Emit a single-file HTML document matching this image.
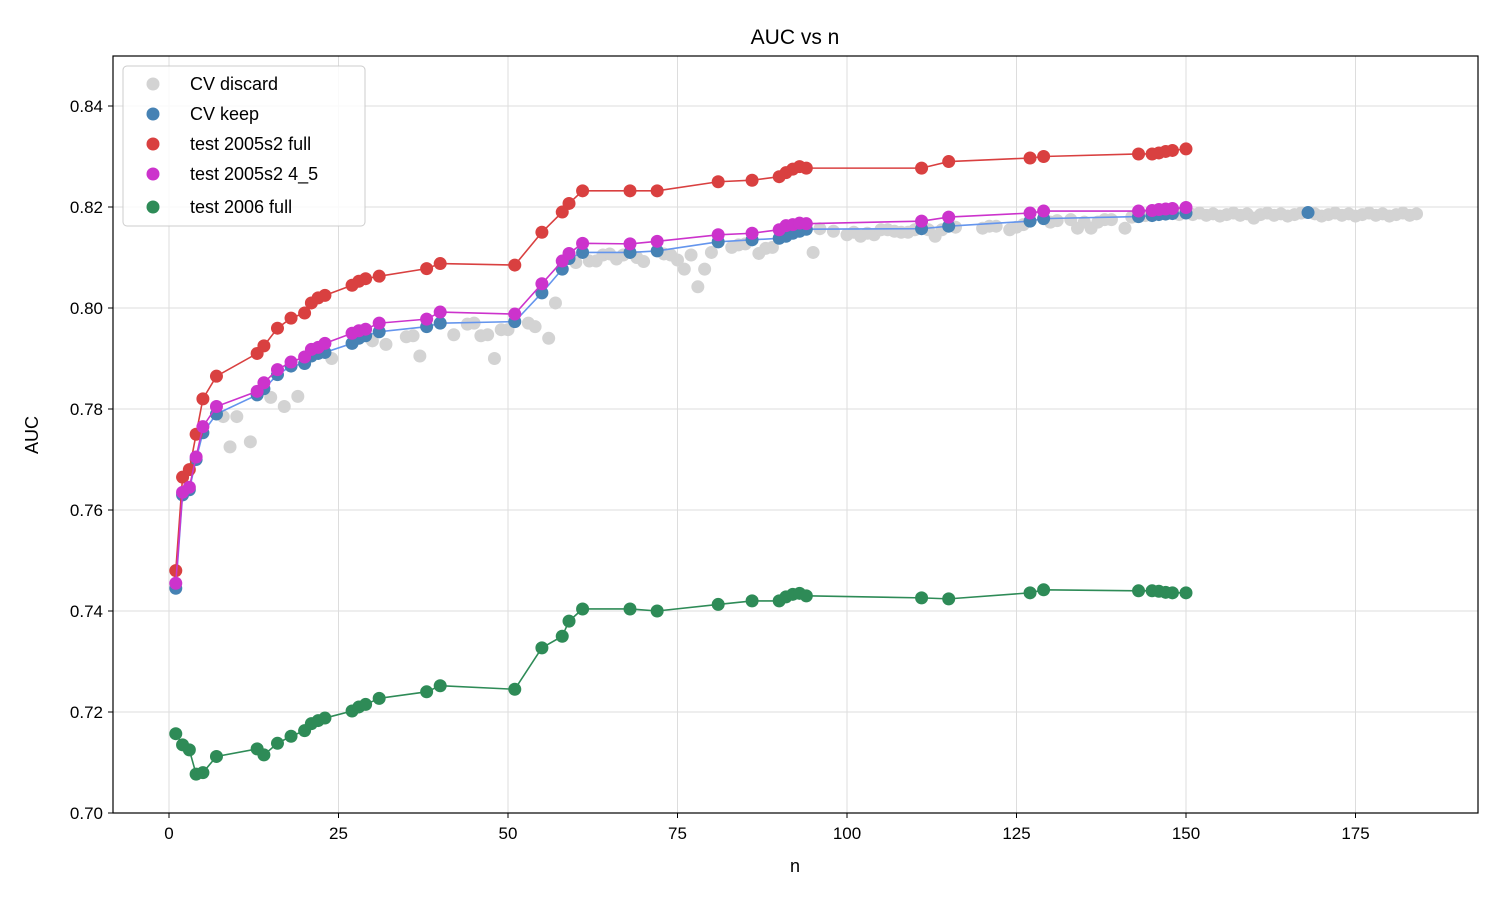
<!DOCTYPE html>
<html><head><meta charset="utf-8"><style>
body{margin:0;background:#fff;}
svg text{font-family:"Liberation Sans","DejaVu Sans",sans-serif;fill:#000;}
</style></head><body>
<svg id="s" width="1500" height="900" xmlns="http://www.w3.org/2000/svg">
<rect width="1500" height="900" fill="#fff"/>
<g id="grid"></g>
<g id="data"></g>
<rect x="113" y="56" width="1365" height="757" fill="none" stroke="#000" stroke-width="1.2"/>
<g id="ticks"></g>
<text x="795" y="44" font-size="21" text-anchor="middle">AUC vs n</text>
<text x="795" y="872" font-size="18" text-anchor="middle">n</text>
<text x="38" y="435" font-size="18" text-anchor="middle" transform="rotate(-90 38 435)">AUC</text>
<g id="legend">
<rect x="123" y="66" width="242" height="160" rx="4" fill="#fff" fill-opacity="0.85" stroke="#ccc"/>
<circle cx="153" cy="84" r="6.5" fill="#d3d3d3"/><text x="190" y="90" font-size="18">CV discard</text>
<circle cx="153" cy="114" r="6.5" fill="#4682b4"/><text x="190" y="120" font-size="18">CV keep</text>
<circle cx="153" cy="144" r="6.5" fill="#d94040"/><text x="190" y="150" font-size="18">test 2005s2 full</text>
<circle cx="153" cy="174" r="6.5" fill="#cc33cc"/><text x="190" y="180" font-size="18">test 2005s2 4_5</text>
<circle cx="153" cy="207" r="6.5" fill="#2e8b57"/><text x="190" y="213" font-size="18">test 2006 full</text>
</g>
</svg>
<script>
const NS="http://www.w3.org/2000/svg";
const X=n=>169+n*6.78, Y=v=>813-(v-0.70)*5050;
const R=6.5;
function el(p,t,a){const e=document.createElementNS(NS,t);for(const k in a)e.setAttribute(k,a[k]);document.getElementById(p).appendChild(e);return e;}
for(let n=0;n<=175;n+=25){const x=X(n);el('grid','line',{x1:x,x2:x,y1:56,y2:813,stroke:'#ddd','stroke-width':1});
el('ticks','line',{x1:x,x2:x,y1:813,y2:818,stroke:'#000'});const t=el('ticks','text',{x:x,y:839,'font-size':17,'text-anchor':'middle'});t.textContent=n;}
for(let i=0;i<=7;i++){const v=0.70+i*0.02,y=Y(v);el('grid','line',{x1:113,x2:1478,y1:y,y2:y,stroke:'#ddd','stroke-width':1});
el('ticks','line',{x1:108,x2:113,y1:y,y2:y,stroke:'#000'});const t=el('ticks','text',{x:103,y:y+6,'font-size':17,'text-anchor':'end'});t.textContent=v.toFixed(2);}
const ns=[1,2,3,4,5,7,13,14,16,18,20,21,22,23,27,28,29,31,38,40,51,55,58,59,61,68,72,81,86,90,91,92,93,94,111,115,127,129,143,145,146,147,148,150];
const red=[.748,.7665,.768,.775,.782,.7865,.791,.7925,.796,.798,.799,.801,.802,.8025,.8045,.8053,.8058,.8063,.8078,.8088,.8085,.815,.819,.8207,.8232,.8232,.8232,.825,.8253,.826,.8268,.8275,.828,.8277,.8277,.829,.8297,.830,.8305,.8305,.8307,.831,.8312,.8315];
const mag=[.7455,.7635,.7645,.7705,.7765,.7805,.7835,.7852,.7878,.7893,.7903,.7918,.7922,.793,.795,.7955,.7958,.797,.7978,.7992,.7988,.8048,.8093,.8108,.8128,.8127,.8132,.8145,.8148,.8155,.8163,.8165,.8168,.8167,.8172,.818,.8188,.8192,.8192,.8193,.8195,.8196,.8197,.8199];
const blu=[.7445,.763,.764,.770,.7753,.779,.7828,.784,.7868,.7885,.789,.7905,.791,.7912,.793,.794,.7945,.7953,.7963,.797,.7973,.803,.8077,.8098,.811,.811,.8113,.8131,.8135,.8138,.8142,.8148,.8152,.8156,.8157,.8162,.8172,.8177,.8181,.8183,.8185,.8186,.8187,.8188];
const grn=[.7157,.7135,.7125,.7077,.708,.7112,.7127,.7115,.7138,.7152,.7163,.7177,.7183,.7188,.7202,.721,.7215,.7227,.724,.7252,.7245,.7327,.735,.738,.7404,.7404,.740,.7413,.742,.742,.7428,.7433,.7435,.743,.7426,.7424,.7436,.7442,.744,.744,.7439,.7437,.7436,.7436];
const grey=[[8,.7785],[9,.7725],[10,.7785],[12,.7735],[15,.7823],[17,.7805],[19,.7825],[24,.79],[30,.7935],[32,.7928],[35,.7943],[36,.7945],[37,.7905],[42,.7947],[44,.7968],[45,.797],[46,.7945],[47,.7947],[48,.790],[49,.7957],[50,.7957],[53,.797],[54,.7963],[56,.794],[57,.801],[60,.809],[62,.8093],[63,.8093],[64,.8105],[65,.8107],[66,.8097],[67,.8105],[69,.810],[70,.8092],[73,.8107],[74,.8105],[75,.8095],[76,.8077],[77,.8105],[78,.8042],[79,.8077],[80,.811],[83,.812],[84,.8125],[85,.8127],[87,.8108],[88,.8118],[89,.812],[95,.811],[96,.8157],[98,.8152],[100,.8145],[101,.815],[102,.8142],[103,.8148],[104,.8145],[105,.8155],[106,.8155],[107,.8152],[108,.815],[109,.815],[110,.8155],[112,.8155],[113,.8142],[114,.8155],[116,.816],[120,.8158],[121,.8162],[122,.8162],[124,.8155],[125,.816],[126,.8165],[130,.817],[131,.8173],[133,.8175],[134,.8158],[135,.817],[136,.8158],[137,.817],[138,.8175],[139,.8175],[141,.8158],[142,.818],[144,.8183],[149,.8185]];
for(let n=151;n<=184;n++){if(n==168)continue;grey.push([n,n==160?.8178:.8185+((n*7)%5-2)*0.00015]);}
grey.forEach(p=>el('data','circle',{cx:X(p[0]),cy:Y(p[1]),r:R,fill:'#d3d3d3'}));
function series(vals,col,lcol){el('data','polyline',{points:ns.map((n,i)=>X(n)+','+Y(vals[i])).join(' '),fill:'none',stroke:lcol,'stroke-width':1.6});
ns.forEach((n,i)=>el('data','circle',{cx:X(n),cy:Y(vals[i]),r:R,fill:col}));}
series(blu,'#4682b4','#6495ed');
el('data','circle',{cx:X(168),cy:Y(.8189),r:R,fill:'#4682b4'});
series(red,'#d94040','#d94040');
series(mag,'#cc33cc','#cc33cc');
series(grn,'#2e8b57','#2e8b57');
</script>
</body></html>
